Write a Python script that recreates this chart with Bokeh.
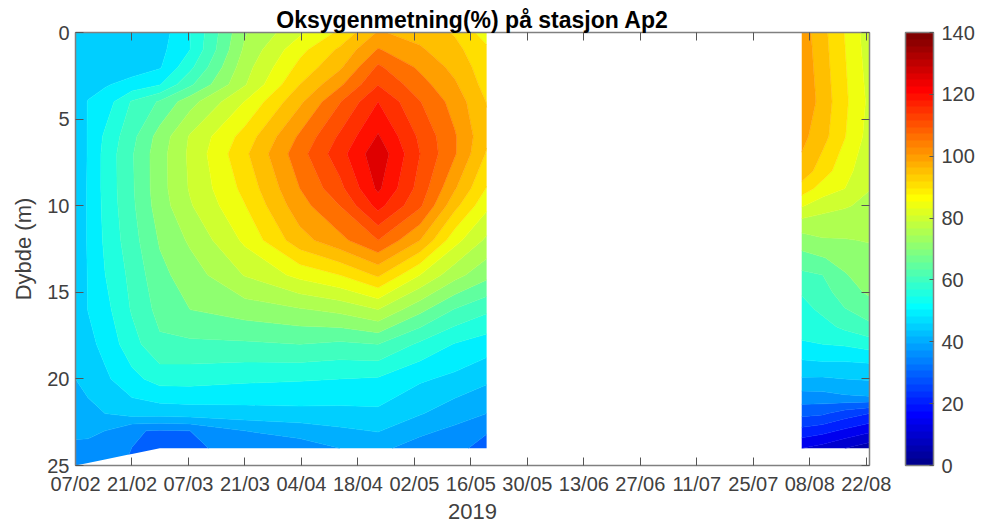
import numpy as np
from bokeh.plotting import figure
from bokeh.embed import file_html
from bokeh.resources import INLINE
from bokeh.models import LinearAxis, LinearColorMapper, ColorBar, FixedTicker, Range1d

title_text = "Oksygenmetning(%) på stasjon Ap2"
tick_days = [0, 14, 28, 42, 56, 70, 84, 98, 112, 126, 140, 154, 168, 182, 196]
tick_labels = ["07/02", "21/02", "07/03", "21/03", "04/04", "18/04", "02/05", "16/05",
               "30/05", "13/06", "27/06", "11/07", "25/07", "08/08", "22/08"]
depth_ticks = [0, 5, 10, 15, 20, 25]
cbar_ticks = [0, 20, 40, 60, 80, 100, 120, 140]
levels = list(range(0, 145, 5))

# First period
days_a = [0, 3.1, 7.3, 14, 20.9, 28.4, 42, 55.6, 65.5, 75, 85.4, 94, 101.9]
depth_a = [0, 1, 2, 3, 4, 6, 7, 9, 10, 12, 14, 16, 18, 20, 22, 23]
bottom_a = [25, 24.85, 24.65, 24.33, 24, 24, 24, 24, 24, 24, 24, 24, 24]
a00 = [45.5, 45.5, 46, 46.5, 47, 47.5, 47.5, 47.5, 47.5, 47.5, 47, 46.5, 46, 45, 42.5, 41, 37]
a01 = [46, 46, 47, 48.5, 50.2, 50.2, 50.2, 50.3, 50.3, 50.3, 50.2, 50.1, 48.5, 46.8, 43.5, 41, 37]
a02 = [46, 46.5, 47.8, 49.5, 52.2, 55.8, 56.5, 56.5, 56.3, 55.8, 54.9, 53.3, 51.5, 49, 45, 40, 36.5]
a03 = [46, 46.3, 47.8, 51.7, 60.5, 63.5, 64.5, 64.3, 64, 63, 61.5, 60.5, 58, 53.5, 47, 35.5, 34.8]
a04 = [47.5, 48.5, 49.5, 54.7, 65.6, 72, 73, 73, 72.5, 70.5, 68.6, 66.7, 64, 57, 47, 34.5, 31]
a05 = [54.8, 55, 58.7, 64, 73, 80.5, 81, 80.5, 79.5, 75.8, 72.5, 70, 64, 57, 47.5, 35, 34]
a06 = [74.5, 76, 78, 79.6, 85.2, 92, 94, 91.5, 89.8, 86, 80.3, 72.5, 64.2, 56, 48, 40, 37]
a07 = [84, 88.5, 91.5, 95, 99, 105.8, 108, 105, 103, 98, 86.5, 74.5, 65, 55.5, 48.5, 42, 37.5]
a08 = [91, 95.9, 99.1, 104, 109.7, 115.8, 118, 113.5, 110, 103.5, 90, 76.4, 64, 55, 48.5, 44, 40]
a09 = [100.5, 105.4, 110.9, 114.8, 120, 125.5, 128.5, 126, 121.7, 110, 95.8, 80, 65, 54.5, 48.9, 45.3, 41]
a10 = [98, 100.7, 104, 107, 110.2, 114, 115, 113, 110.8, 100, 85, 71.4, 59, 50.7, 45.4, 41, 38]
a11 = [94.5, 96.5, 98.5, 100.7, 103, 105.5, 105.5, 100.5, 96.5, 86.8, 76.8, 64.7, 54.7, 48.8, 42, 39, 36.5]
a12 = [87.5, 91, 92, 93, 94.8, 96, 94.5, 89.7, 86.2, 79, 71.5, 61, 52.5, 46, 40, 35.5, 33]

# Second period
days_b = [180, 185.2, 190.7, 196.8]
depth_b = [0, 4, 6, 8, 9, 10, 11, 12, 13, 14, 15, 16, 17, 18, 19, 20, 21, 22, 23, 24]
b0 = [102.8, 104.3, 101.5, 98.2, 92.9, 85.5, 78.1, 72.7, 68.2, 63.9, 60.4, 58.4, 56.6, 54.5, 49.5, 44.5, 38.1, 31.5, 23.3, 15]
b1 = [96.5, 97.9, 96.8, 92.3, 87.9, 82, 77.7, 74.5, 69.8, 65, 62.8, 61, 58.3, 55, 50, 44.4, 38.4, 30.7, 21.7, 13]
b2 = [89.8, 91, 90.2, 86.9, 85, 80.5, 77.5, 74.7, 71.5, 69.7, 67.8, 64.7, 61, 55.6, 50, 45, 39.5, 27.5, 19, 10]
b3 = [82, 83.8, 83, 81.2, 80.2, 78.7, 77.3, 75.3, 73.4, 71.9, 70.8, 67.4, 63.9, 57.2, 50.5, 45.5, 40, 25, 16, 7]


def jet64_row(i):
    """1-based row of a 64-step jet colour table."""
    r = np.clip(min((i - 24) / 16, (72 - i) / 16), 0, 1)
    g = np.clip(min((i - 8) / 16, (56 - i) / 16), 0, 1)
    b = np.clip(min((i + 8) / 16, (40 - i) / 16), 0, 1)
    return "#%02x%02x%02x" % (round(r * 255), round(g * 255), round(b * 255))


cbar_palette = [jet64_row(i) for i in range(1, 65)]
# a band takes the table colour of its lower level
palette = [cbar_palette[int(v / 140 * 64)] for v in levels[:-1]]
line_palette = palette + [palette[-1]]

p = figure(width=975, height=523, output_backend="svg", toolbar_location=None,
           x_range=Range1d(0, 196.8), y_range=Range1d(25, 0),
           frame_width=794, frame_height=433, min_border_left=75, min_border_top=32,
           min_border_bottom=12, min_border_right=0)
p.grid.visible = False
p.outline_line_color = None

za = np.array([a00, a01, a02, a03, a04, a05, a06, a07, a08, a09, a10, a11, a12], dtype=float).T
ya = np.array([[d] * len(days_a) for d in depth_a] + [bottom_a], dtype=float)
xa = np.array([days_a] * (len(depth_a) + 1), dtype=float)
p.contour(xa, ya, za, levels, fill_color=palette, line_color=line_palette, line_width=0.6)

zb = np.array([b0, b1, b2, b3], dtype=float).T
p.contour(days_b, depth_b, zb, levels, fill_color=palette, line_color=line_palette, line_width=0.6)

AX = "#808080"
TC = "#404040"
FS = "20px"
FONT = "Liberation Sans"


def style(ax):
    ax.axis_line_color = AX
    ax.axis_line_width = 1.5
    ax.major_tick_in = 8
    ax.major_tick_out = 0
    ax.minor_tick_line_color = None
    ax.major_tick_line_color = "#555555"
    ax.major_label_text_font = FONT
    ax.major_label_text_font_size = FS
    ax.major_label_text_color = TC
    ax.axis_label_text_font = FONT
    ax.axis_label_text_font_size = "22px"
    ax.axis_label_text_color = TC
    ax.axis_label_text_font_style = "normal"


xa0 = p.xaxis[0]
ya0 = p.yaxis[0]
style(xa0)
style(ya0)
xa0.ticker = FixedTicker(ticks=tick_days)
xa0.major_label_overrides = {d: s for d, s in zip(tick_days, tick_labels)}
xa0.axis_label = "2019"
xa0.axis_label_standoff = 6
xa0.major_label_standoff = 7
ya0.ticker = FixedTicker(ticks=depth_ticks)
ya0.axis_label = "Dybde (m)"
ya0.axis_label_standoff = 8
ya0.major_label_standoff = 6

top = LinearAxis(ticker=FixedTicker(ticks=tick_days), major_label_text_color=None, major_label_text_font_size="0px")
right = LinearAxis(ticker=FixedTicker(ticks=depth_ticks), major_label_text_color=None, major_label_text_font_size="0px")
for a, side in ((top, "above"), (right, "right")):
    a.axis_line_color = AX
    a.axis_line_width = 1.5
    a.major_tick_in = 8
    a.major_tick_out = 0
    a.minor_tick_line_color = None
    a.major_tick_line_color = "#555555"
    a.major_label_standoff = 0
    p.add_layout(a, side)

p.title.text = title_text
p.title.align = "center"
p.title.text_font = FONT
p.title.text_font_size = "23px"
p.title.text_font_style = "bold"
p.title.text_color = "#000000"
p.title.standoff = 0

mapper = LinearColorMapper(palette=cbar_palette, low=0, high=140)
cb = ColorBar(color_mapper=mapper, ticker=FixedTicker(ticks=cbar_ticks), width=28, height=433,
              padding=0, margin=0, major_tick_in=4, major_tick_line_color="#555555",
              minor_tick_line_color=None, bar_line_color=AX, bar_line_width=1.5,
              major_label_text_font=FONT, major_label_text_font_size=FS,
              major_label_text_color=TC, label_standoff=8, location=(36, 0))
p.add_layout(cb, "right")

open("out.html", "w").write(file_html(p, INLINE))
